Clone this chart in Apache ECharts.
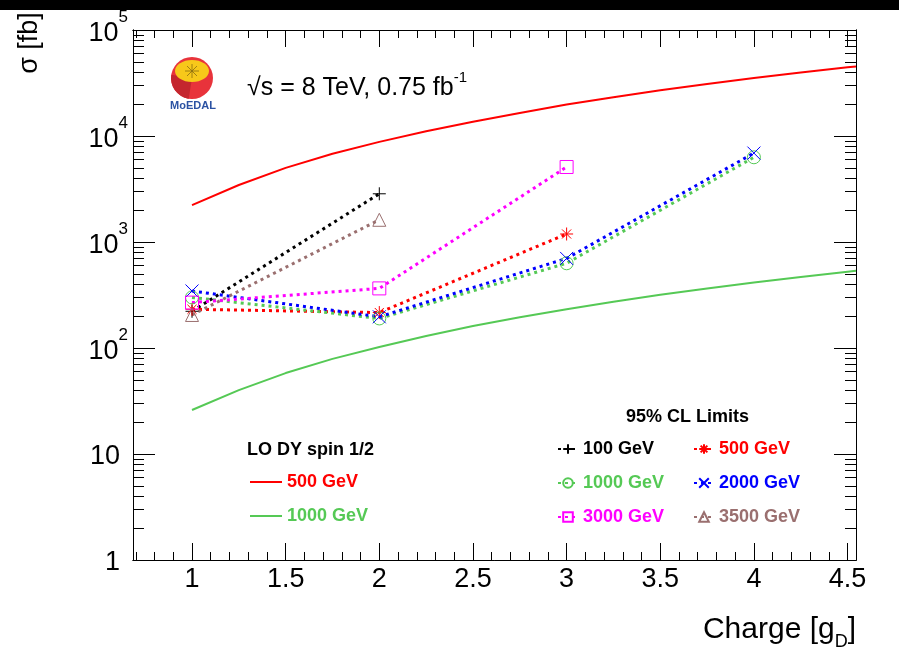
<!DOCTYPE html>
<html><head><meta charset="utf-8">
<script src="https://cdn.jsdelivr.net/npm/echarts@6/dist/echarts.min.js"></script>
<style>html,body{margin:0;padding:0;background:#fff}#c{width:899px;height:653px}</style>
</head><body><div id="c"></div>
<script>
// ---------- data ----------
const xMajorTicks = [1, 1.5, 2, 2.5, 3, 3.5, 4, 4.5];
const yTickLabels = [1, 10, 100, 1000, 10000, 100000];

// LO Drell-Yan spin 1/2 cross sections (fb)
const theoryCharge = [1, 1.25, 1.5, 1.75, 2, 2.25, 2.5, 2.75, 3, 3.25, 3.5, 3.75, 4, 4.25, 4.5, 4.545];
const dy500  = [2230, 3450, 5000, 6800, 8800, 11100, 13600, 16500, 19800, 23200, 27000, 31000, 35200, 39700, 44500, 45300];
const dy1000 = [26, 40, 58, 79, 102, 130, 161, 195, 232, 273, 318, 365, 415, 468, 525, 535];

// 95% CL limits (fb)
const lim100Charge = [1, 2];        const lim100 = [222, 2850];
const lim500Charge = [1, 2, 3];     const lim500 = [232, 216, 1190];
const lim1000Charge = [1, 2, 3, 4]; const lim1000 = [300, 190, 630, 6300];
const lim2000Charge = [1, 2, 3, 4]; const lim2000 = [345, 197, 700, 6900];
const lim3000Charge = [1, 2, 3];    const lim3000 = [268, 365, 5100];
const lim3500Charge = [1, 2];       const lim3500 = [205, 1620];

// ---------- style ----------
const FONT = "'Liberation Sans', Arial, Helvetica, sans-serif";
const RED = '#ff0000', GREEN = '#55c955', BLUE = '#0000ff', MAGENTA = '#ff00ff', BROWN = '#9a6f6f', BLACK = '#000000';
const XMIN = 0.685, XMAX = 4.545, YMIN = 1, YMAX = 100000;

const xMinorTicks = [];
for (let i = 7; i <= 45; i++) { if (i % 5 !== 0) xMinorTicks.push(i / 10); }
const yMinorTicks = [];
for (let e = 0; e < 5; e++) for (let m = 2; m <= 9; m++) yMinorTicks.push(m * Math.pow(10, e));

const SYM_PLUS = 'path://M0,5L10,5M5,0L5,10';
const SYM_CROSS = 'path://M0,0L10,10M10,0L0,10';
const SYM_STAR = 'path://M0,5L10,5M5,0L5,10M1.5,1.5L8.5,8.5M8.5,1.5L1.5,8.5';

function pairs(xs, ys) { return xs.map((x, i) => [x, ys[i]]); }

function limitSeries(name, xs, ys, color, symbol) {
  return {
    type: 'line', name, data: pairs(xs, ys), xAxisIndex: 0, yAxisIndex: 0,
    symbol, symbolSize: 13, showSymbol: true, z: 3,
    lineStyle: { color, width: 3, type: [3, 4] },
    itemStyle: { color: 'rgba(0,0,0,0)', borderColor: color, borderWidth: 1 },
    emphasis: { disabled: true }
  };
}
function theorySeries(name, xs, ys, color) {
  return {
    type: 'line', name, data: pairs(xs, ys), xAxisIndex: 0, yAxisIndex: 0,
    symbol: 'none', smooth: false, z: 2,
    lineStyle: { color, width: 2 }, itemStyle: { color },
    emphasis: { disabled: true }
  };
}

function xAx(pos, ticks, len, labels) {
  return {
    type: 'value', position: pos, min: XMIN, max: XMAX,
    axisLine: { show: true, onZero: false, lineStyle: { color: BLACK, width: 1 } },
    axisTick: { show: true, inside: true, length: len, customValues: ticks, lineStyle: { color: BLACK, width: 1 } },
    axisLabel: labels ? { show: true, customValues: xMajorTicks, fontSize: 27, color: BLACK, fontFamily: FONT, margin: 6 } : { show: false },
    splitLine: { show: false }
  };
}
function yAx(pos, ticks, len, labels) {
  const o = {
    type: 'log', logBase: 10, position: pos, min: YMIN, max: YMAX,
    axisLine: { show: true, onZero: false, lineStyle: { color: BLACK, width: 1 } },
    axisTick: { show: true, inside: true, length: len, lineStyle: { color: BLACK, width: 1 } },
    axisLabel: { show: false },
    splitLine: { show: false }, minorTick: { show: false }
  };
  if (ticks) o.axisTick.customValues = ticks;
  if (labels) {
    o.axisLabel = {
      show: true, margin: 5, fontFamily: FONT, color: BLACK,
      customValues: yTickLabels,
      formatter: function (v) {
        const e = Math.round(Math.log10(v));
        if (e === 0) return '{n|1}';
        if (e === 1) return '{n|10}';
        return '{b|10}{s|' + e + '}';
      },
      rich: {
        n: { fontSize: 27, fontFamily: FONT, color: BLACK, padding: [6, 8, 0, 0] },
        b: { fontSize: 27, fontFamily: FONT, color: BLACK, padding: [8, 0, 0, 0] },
        s: { fontSize: 17, fontFamily: FONT, color: BLACK, padding: [0, 0, 26, 0] }
      }
    };
  }
  return o;
}

const legendText = { fontSize: 18, fontWeight: 'bold', fontFamily: FONT };

const option = {
  animation: false,
  backgroundColor: '#ffffff',
  grid: { left: 133, top: 30, right: 43, bottom: 93 },
  xAxis: [
    xAx('bottom', xMajorTicks, 17, true),
    xAx('bottom', xMinorTicks, 8, false),
    xAx('top', xMajorTicks, 17, false),
    xAx('top', xMinorTicks, 8, false)
  ],
  yAxis: [
    yAx('left', yTickLabels, 22, true),
    yAx('left', yMinorTicks, 11, false),
    yAx('right', yTickLabels, 22, false),
    yAx('right', yMinorTicks, 11, false)
  ],
  legend: [
    { left: 250, top: 473, padding: 0, orient: 'vertical', itemWidth: 32, itemHeight: 2, itemGap: 16, selectedMode: false,
      icon: 'rect',
      textStyle: legendText, formatter: n => n.replace('LO DY ', ''),
      data: [{ name: 'LO DY 500 GeV', textStyle: { color: RED } }, { name: 'LO DY 1000 GeV', textStyle: { color: GREEN } }] },
    { left: 557, top: 440, padding: 0, orient: 'vertical', itemWidth: 20, itemHeight: 12, itemGap: 16, selectedMode: false,
      textStyle: legendText,
      data: [{ name: '100 GeV', textStyle: { color: BLACK } }, { name: '1000 GeV', textStyle: { color: GREEN } }, { name: '3000 GeV', textStyle: { color: MAGENTA } }] },
    { left: 693, top: 440, padding: 0, orient: 'vertical', itemWidth: 20, itemHeight: 12, itemGap: 16, selectedMode: false,
      textStyle: legendText,
      data: [{ name: '500 GeV', textStyle: { color: RED } }, { name: '2000 GeV', textStyle: { color: BLUE } }, { name: '3500 GeV', textStyle: { color: BROWN } }] }
  ],
  series: [
    theorySeries('LO DY 500 GeV', theoryCharge, dy500, RED),
    theorySeries('LO DY 1000 GeV', theoryCharge, dy1000, GREEN),
    limitSeries('100 GeV', lim100Charge, lim100, BLACK, SYM_PLUS),
    limitSeries('500 GeV', lim500Charge, lim500, RED, SYM_STAR),
    limitSeries('1000 GeV', lim1000Charge, lim1000, GREEN, 'circle'),
    limitSeries('2000 GeV', lim2000Charge, lim2000, BLUE, SYM_CROSS),
    limitSeries('3000 GeV', lim3000Charge, lim3000, MAGENTA, 'rect'),
    limitSeries('3500 GeV', lim3500Charge, lim3500, BROWN, 'triangle')
  ],
  graphic: { elements: [
    { type: 'rect', shape: { x: 0, y: 0, width: 899, height: 10 }, style: { fill: '#000' }, silent: true },
    // y-axis title
    { type: 'text', x: 30, y: 43, rotation: Math.PI / 2, silent: true,
      style: { text: 'σ [fb]', font: '27px ' + FONT, fill: BLACK, align: 'center', verticalAlign: 'middle' } },
    // x-axis title
    { type: 'text', x: 856, y: 630, silent: true,
      style: { text: '{c|Charge [g}{d|D}{c|]}', align: 'right', verticalAlign: 'middle', fill: BLACK,
        rich: { c: { fontSize: 30, fontFamily: FONT, fill: BLACK }, d: { fontSize: 18, fontFamily: FONT, fill: BLACK, padding: [24, 0, 0, 0] } } } },
    // energy / luminosity
    { type: 'text', x: 247, y: 88, silent: true,
      style: { text: '{m|√s = 8 TeV, 0.75 fb}{s|-1}', verticalAlign: 'middle', fill: BLACK,
        rich: { m: { fontSize: 25, fontFamily: FONT, fill: BLACK }, s: { fontSize: 15, fontFamily: FONT, fill: BLACK, padding: [0, 0, 20, 0] } } } },
    // legend headers
    { type: 'text', x: 247, y: 450, silent: true,
      style: { text: 'LO DY spin 1/2', font: 'bold 18px ' + FONT, fill: BLACK, verticalAlign: 'middle' } },
    { type: 'text', x: 626, y: 417, silent: true,
      style: { text: '95% CL Limits', font: 'bold 18px ' + FONT, fill: BLACK, verticalAlign: 'middle' } },
    // MoEDAL logo
    { type: 'circle', shape: { cx: 192, cy: 78, r: 21 }, style: { fill: '#e8333b' }, silent: true },
    { type: 'sector', shape: { cx: 192, cy: 78, r: 21, r0: 0, startAngle: Math.PI * 0.55, endAngle: Math.PI * 1.05 }, style: { fill: '#c4262e' }, silent: true },
    { type: 'ellipse', shape: { cx: 192, cy: 71, rx: 17, ry: 11 }, style: { fill: '#f7c81a' }, silent: true },
    { type: 'line', shape: { x1: 185, y1: 71, x2: 199, y2: 71 }, style: { stroke: '#8a6d10', lineWidth: 0.8 }, silent: true },
    { type: 'line', shape: { x1: 192, y1: 64, x2: 192, y2: 78 }, style: { stroke: '#8a6d10', lineWidth: 0.8 }, silent: true },
    { type: 'line', shape: { x1: 187, y1: 66, x2: 197, y2: 76 }, style: { stroke: '#8a6d10', lineWidth: 0.8 }, silent: true },
    { type: 'line', shape: { x1: 197, y1: 66, x2: 187, y2: 76 }, style: { stroke: '#8a6d10', lineWidth: 0.8 }, silent: true },
    { type: 'text', x: 193, y: 106, silent: true,
      style: { text: 'MoEDAL', font: 'bold 11px ' + FONT, fill: '#2b52a3', align: 'center', verticalAlign: 'middle' } }
  ] }
};

const chart = echarts.init(document.getElementById('c'), null, { renderer: 'canvas' });
chart.setOption(option);
</script>
</body></html>
